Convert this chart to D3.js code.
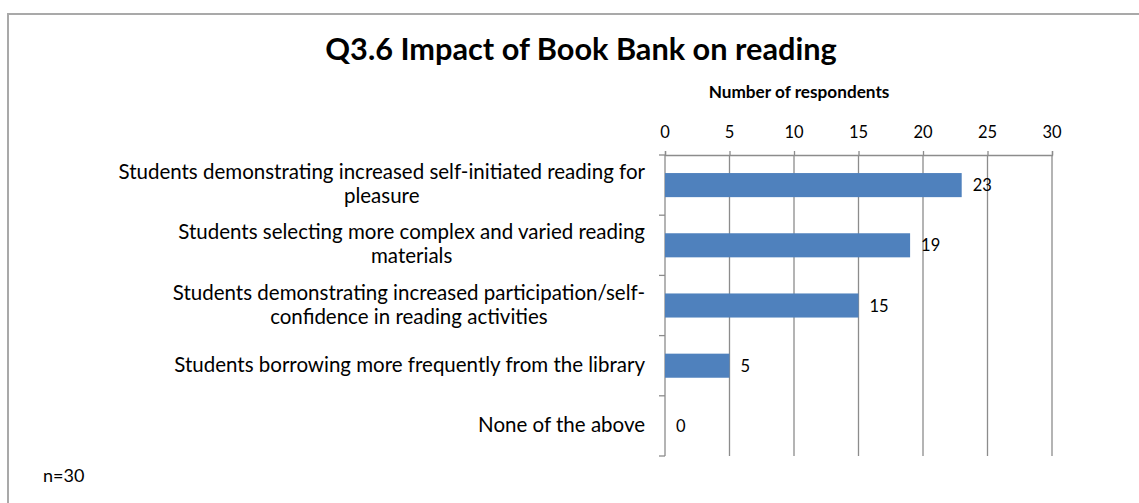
<!DOCTYPE html>
<html>
<head>
<meta charset="utf-8">
<script src="https://cdn.jsdelivr.net/npm/d3@7"></script>
<style>
  html, body { margin: 0; padding: 0; background: #fff; }
  svg { display: block; }
  text { font-family: Lato, "Open Sans", sans-serif; fill: #000; }
</style>
</head>
<body>
<svg id="chart" width="1139" height="503"></svg>
<script>
// Survey responses: number of respondents per observed impact
const categories = [
  "Students demonstrating increased self-initiated reading for\npleasure",
  "Students selecting more complex and varied reading\nmaterials",
  "Students demonstrating increased participation/self-\nconfidence in reading activities",
  "Students borrowing more frequently from the library",
  "None of the above"
];
const respondents = [23, 19, 15, 5, 0];
const xTicks = [0, 5, 10, 15, 20, 25, 30];
const chartTitle = "Q3.6 Impact of Book Bank on reading";
const axisTitle = "Number of respondents";
const footnote = "n=30";

const svg = d3.select("#chart");

// outer chart border (runs off the right and bottom edges)
svg.append("rect")
  .attr("x", 8).attr("y", 14)
  .attr("width", 1200).attr("height", 600)
  .attr("fill", "#fff")
  .attr("stroke", "#a9a9a9")
  .attr("stroke-width", 2);

const plot = { left: 665, right: 1052, top: 155, bottom: 456 };

const x = d3.scaleLinear().domain([0, 30]).range([plot.left, plot.right]);
const y = d3.scaleBand()
  .domain(categories)
  .range([plot.top, plot.bottom])
  .paddingInner(0.6)
  .paddingOuter(0.3);

// title
svg.append("text")
  .attr("x", 581).attr("y", 60)
  .attr("text-anchor", "middle")
  .style("font-weight", "bold")
  .style("font-size", "30.7px")
  .text(chartTitle);

// axis title above the value axis
svg.append("text")
  .attr("x", 799).attr("y", 98)
  .attr("text-anchor", "middle")
  .style("font-weight", "bold")
  .style("font-size", "17.2px")
  .text(axisTitle);

const gridColor = "#8c8c8c";

// value axis on top, with gridlines running down through the plot
const xAxis = d3.axisTop(x)
  .tickValues(xTicks)
  .tickSize(4)
  .tickPadding(0);

const gx = svg.append("g")
  .attr("transform", `translate(0,${plot.top})`)
  .call(xAxis);
gx.select(".domain").attr("stroke", gridColor).attr("stroke-width", 1.3);
gx.selectAll(".tick line").attr("stroke", gridColor).attr("stroke-width", 1.3);
gx.selectAll(".tick text").remove();

svg.append("g")
  .selectAll("line")
  .data(xTicks.filter(d => d > 0))
  .join("line")
  .attr("x1", d => x(d)).attr("x2", d => x(d))
  .attr("y1", plot.top).attr("y2", plot.bottom)
  .attr("stroke", gridColor)
  .attr("stroke-width", 1.3);

// tick labels
svg.append("g")
  .selectAll("text")
  .data(xTicks)
  .join("text")
  .attr("x", d => x(d))
  .attr("y", 138)
  .attr("text-anchor", "middle")
  .style("font-size", "16.5px")
  .text(d => d);

// category axis line with boundary ticks
const step = y.step();
const boundaries = d3.range(categories.length + 1).map(i => plot.top + i * step);
svg.append("line")
  .attr("x1", plot.left).attr("x2", plot.left)
  .attr("y1", plot.top).attr("y2", plot.bottom)
  .attr("stroke", gridColor).attr("stroke-width", 1.3);
svg.append("g")
  .selectAll("line")
  .data(boundaries)
  .join("line")
  .attr("x1", plot.left - 6).attr("x2", plot.left)
  .attr("y1", d => d).attr("y2", d => d)
  .attr("stroke", gridColor).attr("stroke-width", 1.3);

// bars
svg.append("g")
  .selectAll("rect")
  .data(respondents)
  .join("rect")
  .attr("x", x(0))
  .attr("y", (d, i) => y(categories[i]))
  .attr("width", d => x(d) - x(0))
  .attr("height", y.bandwidth())
  .attr("fill", "#4f81bd");

// value labels
svg.append("g")
  .selectAll("text")
  .data(respondents)
  .join("text")
  .attr("x", d => x(d) + 11)
  .attr("y", (d, i) => y(categories[i]) + y.bandwidth() / 2 + 6)
  .style("font-size", "16.5px")
  .text(d => d);

// category labels: each block right-aligned to the axis, lines centred within it
const labelRight = 645;
const lineHeight = 24;
categories.forEach(cat => {
  const lines = cat.split("\n");
  const cy = y(cat) + y.bandwidth() / 2;
  const g = svg.append("g");
  const texts = lines.map((ln, i) => g.append("text")
    .attr("y", cy + (i - (lines.length - 1) / 2) * lineHeight + 6)
    .attr("text-anchor", "middle")
    .style("font-size", "20.5px")
    .text(ln));
  const maxW = d3.max(texts, t => t.node().getComputedTextLength());
  texts.forEach(t => t.attr("x", labelRight - maxW / 2));
});

// sample size note
svg.append("text")
  .attr("x", 43).attr("y", 482)
  .style("font-size", "18px")
  .text(footnote);
</script>
</body>
</html>
